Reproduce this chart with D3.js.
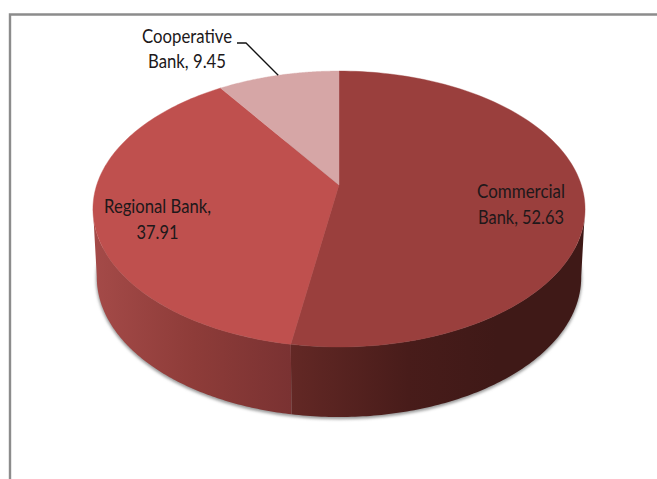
<!DOCTYPE html>
<html>
<head>
<meta charset="utf-8">
<script src="https://cdnjs.cloudflare.com/ajax/libs/d3/7.8.5/d3.min.js"></script>
<style>
html,body{margin:0;padding:0;background:#fff;}
svg{display:block;}
text{font-family:Lato,"Open Sans",sans-serif;font-size:18.5px;fill:#20181a;text-anchor:middle;}
</style>
</head>
<body>
<svg id="chart" width="657" height="479"></svg>
<script>
// Share of banks by type, drawn as a tilted 3D pie
const categories = ["Commercial Bank", "Cooperative Bank", "Regional Bank"];
const shares = [52.63, 9.45, 37.91];
const sliceOrder = ["Commercial Bank", "Regional Bank", "Cooperative Bank"];
const topColors = ["#9a3f3d", "#bf504e", "#d6a6a6"];
const labelLines = [["Commercial", "Bank, 52.63"], ["Regional Bank,", "37.91"], ["Cooperative", "Bank, 9.45"]];
const labelAnchors = [[521, 198, 26], [157.5, 213, 26], [187, 43, 25]];
const labelWidths = [[88, 86], [107, 42], [90, 78]];

const svg = d3.select("#chart");
const defs = svg.append("defs");
const valueOf = new Map(categories.map((c, i) => [c, shares[i]]));
const pieData = d3.pie().sort(null).value(d => valueOf.get(d))(sliceOrder);

// Perspective projection of a unit disc lying flat; z is the near-side skew
const skew = 0.174;
function disc(cx, cy, a, b) {
  return t => {
    const u = Math.sin(t), v = -Math.cos(t), w = 1 - skew * v;
    return [cx + a * u / w, cy + b * v / w];
  };
}
const topFace = disc(339, 185, 242.3, 133.8);
const baseFace = disc(339, 253, 238.5, 135.5);

const line = d3.line();
const sweep = (f, t0, t1) => d3.range(0, 121).map(i => f(t0 + (t1 - t0) * i / 120));
const apex = topFace(0);
apex[1] = 185;

// Outer wall spans only the visible front of the rim
const leftTangent = 3 * Math.PI / 2 - 0.17;
const rightTangent = Math.PI / 2 + 0.17;
const seam = pieData[0].endAngle;

function wall(t0, t1) {
  const upper = sweep(topFace, t0, t1);
  const lower = sweep(baseFace, t0, t1).reverse();
  return line(upper.concat(lower)) + "Z";
}

function gradient(id, x1, x2, stops) {
  const g = defs.append("linearGradient")
    .attr("id", id).attr("gradientUnits", "userSpaceOnUse")
    .attr("x1", x1).attr("x2", x2).attr("y1", 0).attr("y2", 0);
  stops.forEach(([o, c]) => g.append("stop").attr("offset", o).attr("stop-color", c));
}
gradient("wallRegional", 95, 291, [[0, "#a44a48"], [0.5, "#8e3c39"], [1, "#7a3232"]]);
gradient("wallCommercial", 291, 585, [[0, "#632825"], [0.4, "#481c1a"], [0.7, "#3f1917"], [1, "#3f1917"]]);

const shadow = defs.append("filter").attr("id", "softShadow")
  .attr("x", "-5%").attr("y", "-5%").attr("width", "110%").attr("height", "110%");
shadow.append("feGaussianBlur").attr("stdDeviation", 1.6);

// Soft shadow under the base
svg.append("path")
  .attr("d", line(sweep(baseFace, 0, 2 * Math.PI)) + "Z")
  .attr("fill", "#9a9a9a")
  .attr("stroke", "#9a9a9a")
  .attr("stroke-width", 1.5)
  .attr("filter", "url(#softShadow)")
  .attr("transform", "translate(0,1.5)");

svg.append("path").attr("d", wall(seam, rightTangent)).attr("fill", "url(#wallCommercial)");
svg.append("path").attr("d", wall(seam, leftTangent)).attr("fill", "url(#wallRegional)");

// Top face wedges
svg.selectAll("path.slice").data(pieData).join("path")
  .attr("class", "slice")
  .attr("fill", (d, i) => topColors[i])
  .attr("stroke", (d, i) => topColors[i])
  .attr("stroke-width", 0.4)
  .attr("d", d => line([apex].concat(sweep(topFace, d.startAngle, d.endAngle))) + "Z");

// Frame: top and left edges only
svg.append("path").attr("d", "M10,479V14.5H657").attr("fill", "none")
  .attr("stroke", "#8c8c8c").attr("stroke-width", 2.4);

// Leader line for the smallest slice
const leaderEnd = topFace((pieData[2].startAngle + pieData[2].endAngle) / 2);
svg.append("path")
  .attr("d", line([[237, 43], [246, 43], leaderEnd]))
  .attr("fill", "none").attr("stroke", "#111").attr("stroke-width", 1.3);

// Data labels, condensed to a fixed width
labelLines.forEach((lines, i) => {
  const [x, y, lead] = labelAnchors[i];
  lines.forEach((s, j) => svg.append("text")
    .attr("x", x).attr("y", y + j * lead)
    .attr("textLength", labelWidths[i][j])
    .attr("lengthAdjust", "spacingAndGlyphs")
    .text(s));
});
</script>
</body>
</html>
